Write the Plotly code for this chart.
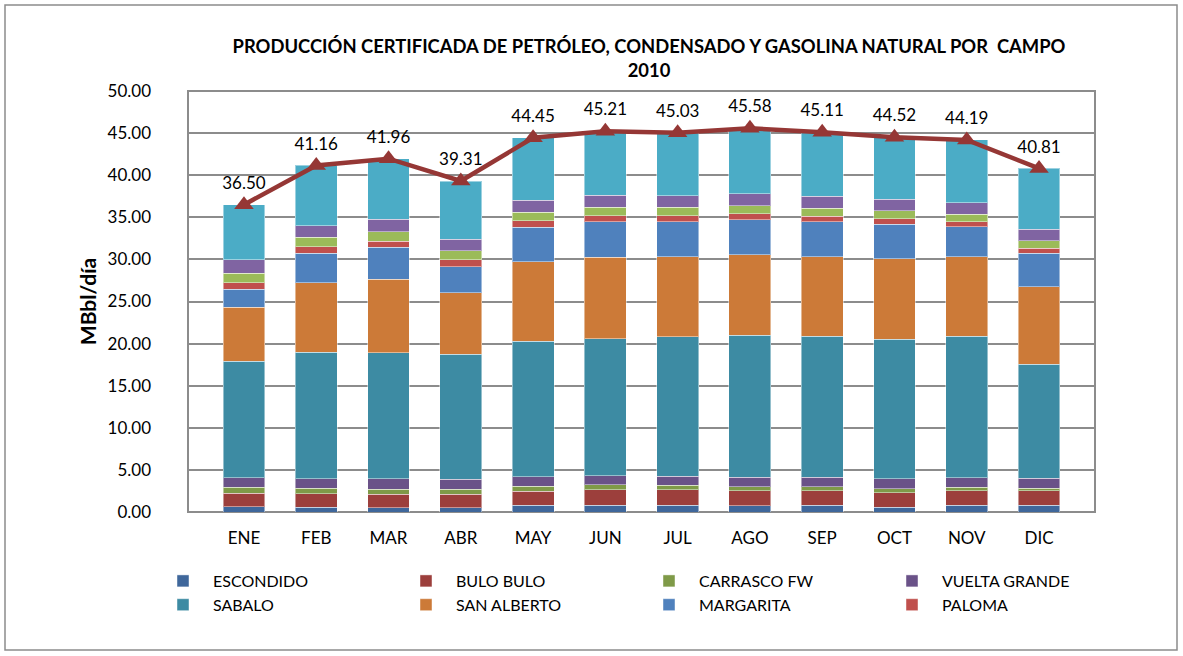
import plotly.graph_objects as go

meses = ["ENE", "FEB", "MAR", "ABR", "MAY", "JUN", "JUL", "AGO", "SEP", "OCT", "NOV", "DIC"]

escondido     = [0.63, 0.55, 0.51, 0.51, 0.79, 0.79, 0.79, 0.75, 0.79, 0.55, 0.79, 0.79]
bulo_bulo     = [1.59, 1.63, 1.59, 1.59, 1.66, 1.86, 1.86, 1.78, 1.74, 1.74, 1.74, 1.74]
carrasco_fw   = [0.71, 0.63, 0.63, 0.63, 0.60, 0.56, 0.52, 0.48, 0.44, 0.48, 0.40, 0.32]
vuelta_grande = [1.15, 1.15, 1.19, 1.15, 1.15, 1.07, 1.07, 1.11, 1.15, 1.15, 1.15, 1.15]
sabalo        = [13.82, 15.04, 15.00, 14.88, 16.07, 16.30, 16.58, 16.90, 16.78, 16.59, 16.82, 13.54]
san_alberto   = [6.41, 8.24, 8.71, 7.29, 9.46, 9.67, 9.51, 9.54, 9.43, 9.54, 9.43, 9.22]
margarita     = [2.17, 3.52, 3.80, 3.09, 4.08, 4.23, 4.15, 4.16, 4.15, 4.12, 3.55, 4.00]
paloma        = [0.72, 0.74, 0.75, 0.79, 0.79, 0.71, 0.71, 0.71, 0.67, 0.67, 0.60, 0.56]
otro_verde    = [1.15, 1.12, 1.11, 1.07, 1.00, 0.99, 0.99, 0.95, 0.95, 0.91, 0.91, 0.87]
otro_morado   = [1.58, 1.38, 1.47, 1.42, 1.40, 1.43, 1.39, 1.42, 1.39, 1.39, 1.34, 1.38]
otro_celeste  = [6.57, 7.16, 7.20, 6.89, 7.45, 7.60, 7.46, 7.78, 7.62, 7.38, 7.46, 7.24]
total         = [36.50, 41.16, 41.96, 39.31, 44.45, 45.21, 45.03, 45.58, 45.11, 44.52, 44.19, 40.81]

series = [
    ("ESCONDIDO", escondido, "#3F679B", True),
    ("BULO BULO", bulo_bulo, "#9C3F3C", True),
    ("CARRASCO FW", carrasco_fw, "#7F9A48", True),
    ("VUELTA GRANDE", vuelta_grande, "#6A5288", True),
    ("SABALO", sabalo, "#3D8BA3", True),
    ("SAN ALBERTO", san_alberto, "#CC7A38", True),
    ("MARGARITA", margarita, "#4F81BD", True),
    ("PALOMA", paloma, "#C0504D", True),
    ("OTROS (1)", otro_verde, "#9BBB59", False),
    ("OTROS (2)", otro_morado, "#8064A2", False),
    ("OTROS (3)", otro_celeste, "#4BACC6", False),
]

FONT = "Lato"
W, H = 1183, 656
L, R, T, B = 188, 88, 91, 144
PW, PH = W - L - R, H - T - B

def px(x):
    return (x - L) / PW

def py(y):
    return (H - B - y) / PH

fig = go.Figure()
for name, vals, color, show in series:
    fig.add_trace(go.Bar(
        x=meses, y=vals, name=name, showlegend=show,
        marker=dict(color=color, line=dict(color="rgba(255,255,255,0.45)", width=1)),
    ))

fig.add_trace(go.Scatter(
    x=meses, y=total, mode="lines+markers+text", showlegend=False, name="TOTAL",
    line=dict(color="#953735", width=4.5),
    marker=dict(symbol="triangle-up", size=17, color="#953735"),
    text=[f"{v:.2f}" for v in total], textposition="top center",
    textfont=dict(family=FONT, size=17, color="#000000"),
))

fig.update_layout(
    width=W, height=H,
    margin=dict(l=L, r=R, t=T, b=B),
    barmode="stack", bargap=0.42,
    plot_bgcolor="white", paper_bgcolor="white",
    font=dict(family=FONT, color="#000000"),
    title=dict(
        text="<b>PRODUCCIÓN CERTIFICADA DE PETRÓLEO, CONDENSADO Y GASOLINA NATURAL POR  CAMPO<br>2010</b>",
        xref="container", yref="container",
        x=649 / W, xanchor="center", y=1 - 53 / H, yanchor="top",
        font=dict(family=FONT, size=18.4, color="#000000"),
    ),
    legend=dict(
        orientation="h", x=px(153), xanchor="left", y=py(564), yanchor="top",
        entrywidth=178, entrywidthmode="pixels", traceorder="normal",
        font=dict(family=FONT, size=16, color="#000000"),
        itemwidth=50, tracegroupgap=0,
    ),
    showlegend=True,
)

fig.update_yaxes(
    range=[0, 50], dtick=5, tickformat=".2f",
    showgrid=True, gridcolor="#8C8C8C", gridwidth=2,
    zeroline=False, showline=False,
    ticks="", ticklabelstandoff=36,
    tickfont=dict(family=FONT, size=17, color="#000000"),
    title=dict(text="<b>MBbl/día</b>", font=dict(family=FONT, size=21, color="#000000"), standoff=5),
)
fig.update_xaxes(
    showgrid=False, showline=False, ticks="",
    ticklabelstandoff=14,
    tickfont=dict(family=FONT, size=17, color="#000000"),
)

# plot-area frame and outer chart frame
fig.add_shape(type="rect", xref="paper", yref="paper", x0=0, x1=1, y0=0, y1=1,
              line=dict(color="#8C8C8C", width=2), layer="below")
fig.add_shape(type="rect", xref="paper", yref="paper",
              x0=px(5), x1=px(1177), y0=py(650), y1=py(5),
              line=dict(color="#8C8C8C", width=1.5))

fig.write_html("out.html", config={"displayModeBar": False},
               post_script="document.body.style.margin='0';")
